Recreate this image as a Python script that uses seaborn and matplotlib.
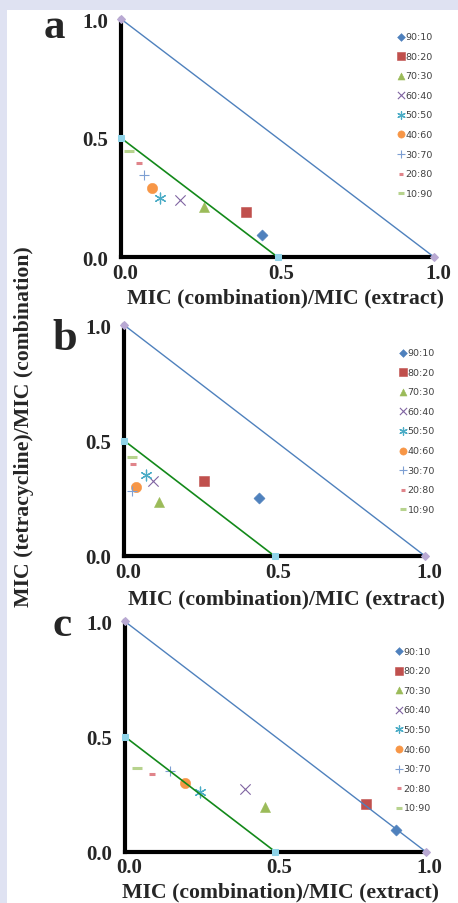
import numpy as np
import pandas as pd
import matplotlib
matplotlib.use("Agg")
import matplotlib.pyplot as plt
import matplotlib.transforms as mtransforms
from matplotlib.patches import Rectangle
import seaborn as sns

# ---------------- data ----------------
ratios = ["90:10", "80:20", "70:30", "60:40", "50:50", "40:60", "30:70", "20:80", "10:90"]

a_x = [0.45, 0.40, 0.265, 0.19, 0.125, 0.10, 0.075, 0.058, 0.025]
a_y = [0.092, 0.19, 0.21, 0.24, 0.25, 0.29, 0.345, 0.395, 0.445]

b_x = [0.449, 0.266, 0.117, 0.097, 0.072, 0.04, 0.025, 0.029, 0.027]
b_y = [0.25, 0.326, 0.235, 0.326, 0.35, 0.30, 0.283, 0.40, 0.43]

c_x = [0.90, 0.80, 0.467, 0.40, 0.249, 0.201, 0.15, 0.091, 0.04]
c_y = [0.095, 0.208, 0.194, 0.27, 0.258, 0.30, 0.35, 0.336, 0.365]

additive_x = [0.0, 1.0]
additive_y = [1.0, 0.0]
synergy_x = [0.0, 0.5]
synergy_y = [0.5, 0.0]

ticks = [0.0, 0.5, 1.0]
tick_labels = ["0.0", "0.5", "1.0"]
panel_letters = ["a", "b", "c"]
xlabel = "MIC (combination)/MIC (extract)"
ylabel = "MIC (tetracycline)/MIC (combination)"

# ---------------- styles ----------------
marker_styles = [
    dict(marker="D", color="#4f81bd", s=32),
    dict(marker="s", color="#c0504d", s=52),
    dict(marker="^", color="#9bbb59", s=52),
    dict(marker="x", color="#8064a2", s=55, linewidths=0.8),
    dict(marker=(6, 2, 0), color="#4bacc6", s=60, linewidths=0.9),
    dict(marker="o", color="#f79646", s=55),
    dict(marker="+", color="#7d9fd3", s=55, linewidths=0.8),
    dict(marker="_", color="#e0848a", s=16, linewidths=2.2),
    dict(marker="_", color="#b7d38e", s=42, linewidths=2.2),
]

sns.set_style("white")
plt.rcParams["font.family"] = ["Liberation Serif", "DejaVu Serif"]

W, H = 458, 904
fig = plt.figure(figsize=(W / 100, H / 100), dpi=100)
fig.patch.set_facecolor("white")
lav = "#dfe2f2"
fig.patches.append(Rectangle((0, 0), 7 / W, 1, transform=fig.transFigure,
                             facecolor=lav, edgecolor="none", zorder=-10))
fig.patches.append(Rectangle((0, 1 - 11 / H), 1, 11 / H, transform=fig.transFigure,
                             facecolor=lav, edgecolor="none", zorder=-10))

# axes positions in pixels: (left, right, top, bottom)
boxes = [(121, 434, 20, 258), (124, 425, 326, 557), (124.7, 425.7, 622.3, 852.7)]
data = [(a_x, a_y), (b_x, b_y), (c_x, c_y)]
legend_anchor = [(0.997, 0.945), (1.033, 0.90), (1.017, 0.89)]
xlabel_pos = [(0.527, -0.172), (0.54, -0.186), (0.516, -0.172)]
letter_pos = [(44, 38, 31), (52, 350, 32), (53, 636, 31)]

for i, (l, r, t, b) in enumerate(boxes):
    ax = fig.add_axes([l / W, 1 - b / H, (r - l) / W, (b - t) / H])
    ax.set_facecolor("white")
    xs, ys = data[i]
    handles = []
    for j, name in enumerate(ratios):
        st = dict(marker_styles[j])
        col = st.pop("color")
        mk = st["marker"]
        filled = mk in ("D", "s", "^", "o")
        kw = dict(st)
        if filled:
            kw["edgecolor"] = col
            kw["linewidth"] = 0.4
        sns.scatterplot(x=[xs[j]], y=[ys[j]], ax=ax, color=col, label=name,
                        zorder=3, clip_on=False, legend=False, **kw)
        handles.append(ax.collections[-1])
    sns.lineplot(x=additive_x, y=additive_y, ax=ax, color="#4f81bd", linewidth=1.0,
                 marker="D", markersize=4, markerfacecolor="#b9a9d3",
                 markeredgecolor="#b9a9d3", clip_on=False, zorder=4)
    sns.lineplot(x=synergy_x, y=synergy_y, ax=ax, color="#13891a", linewidth=1.2,
                 marker="s", markersize=4.5, markerfacecolor="#8fd3e8",
                 markeredgecolor="#8fd3e8", clip_on=False, zorder=4)

    ax.set_xlim(0, 1)
    ax.set_ylim(0, 1)
    ax.set_xticks(ticks)
    ax.set_yticks(ticks)
    ax.set_xticklabels(tick_labels, fontsize=15, fontweight="bold")
    ax.set_yticklabels(tick_labels, fontsize=15, fontweight="bold")
    ax.tick_params(axis="both", length=0)
    ax.tick_params(axis="x", pad=4)
    ax.tick_params(axis="y", pad=9)
    off = mtransforms.ScaledTranslation(4 / 100, 0, fig.dpi_scale_trans)
    for lab in ax.get_xticklabels():
        lab.set_transform(lab.get_transform() + off)
    for side in ("top", "right"):
        ax.spines[side].set_visible(False)
    for side in ("left", "bottom"):
        ax.spines[side].set_linewidth(3)
        ax.spines[side].set_color("black")
        ax.spines[side].set_capstyle("projecting")
    ax.set_xlabel(xlabel, fontsize=15.7, fontweight="bold", va="center")
    ax.xaxis.set_label_coords(*xlabel_pos[i])
    ax.set_ylabel("")

    leg = ax.legend(handles, ratios, loc="upper right", bbox_to_anchor=legend_anchor[i],
                    frameon=False, prop={"family": "DejaVu Sans", "size": 6.8},
                    labelspacing=1.12, handlelength=0.6, handletextpad=0.15,
                    borderpad=0, borderaxespad=0, markerscale=0.7,
                    labelcolor="#404040", scatterpoints=1)
    leg.set_zorder(5)

    lx, ly, fs = letter_pos[i]
    fig.text(lx / W, 1 - ly / H, panel_letters[i], fontsize=fs, fontweight="bold",
             ha="left", va="baseline")

fig.text(24 / W, 1 - 427 / H, ylabel, rotation=90, fontsize=15.7, fontweight="bold",
         ha="center", va="center")

fig.savefig("out.png", dpi=100, facecolor=fig.get_facecolor())
